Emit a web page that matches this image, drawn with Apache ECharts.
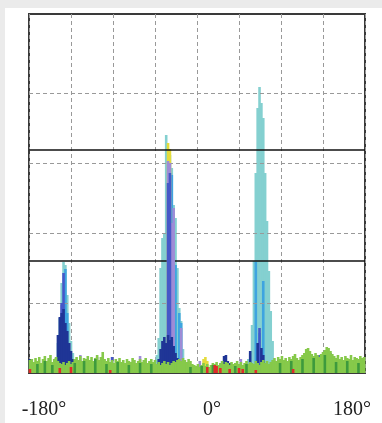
<!DOCTYPE html>
<html>
<head>
<meta charset="utf-8">
<script src="https://cdn.jsdelivr.net/npm/echarts@6/dist/echarts.min.js"></script>
<style>
  html, body { margin: 0; padding: 0; background: #ebebeb; }
  #chart { position: absolute; left: 5px; top: 8px; width: 377px; height: 415px; background: #fff; }
</style>
</head>
<body>
<div id="chart"></div>
<script>
// x labels shown under the plot
const tickValues = [-180, 0, 180]
const tickLabels = ['-180°', '0°', '180°']

// dashed reference levels and solid threshold lines (y units)
const gridLevels = [70, 140, 210, 280]
const thresholds = [112, 223]

// green background noise, one value per 2° bin from -180 to 180
const green = [
    13, 14, 11, 15, 12, 16, 10, 14, 17, 12,
    15, 18, 11, 14, 16, 12, 10, 9, 11, 8,
    10, 12, 9, 11, 14, 16, 13, 17, 12, 15,
    14, 17, 13, 16, 12, 15, 18, 13, 16, 21,
    14, 12, 15, 11, 13, 10, 14, 12, 15, 11,
    13, 10, 14, 12, 11, 15, 13, 10, 12, 14,
    11, 13, 15, 10, 12, 14, 11, 13, 9, 11,
    8, 10, 12, 9, 11, 8, 10, 12, 11, 13,
    14, 12, 15, 13, 11, 14, 12, 9, 8, 7,
    9, 6, 8, 10, 7, 9, 6, 8, 10, 9,
    11, 8, 10, 12, 9, 11, 10, 8, 11, 9,
    10, 12, 9, 11, 8, 10, 12, 9, 11, 10,
    9, 12, 10, 8, 11, 13, 10, 12, 9, 11,
    13, 15, 12, 16, 14, 17, 13, 15, 12, 16,
    14, 17, 19, 15, 13, 16, 18, 20, 24, 25,
    22, 19, 17, 20, 18, 16, 19, 21, 23, 26,
    25, 22, 19, 17, 15, 18, 14, 16, 13, 17,
    15, 14, 18, 13, 16, 15, 14, 17, 15, 16
]

// sparse series: [angle, height]
const cyan = [
    [-151, 12], [-149, 30], [-147, 55], [-145, 90], [-143, 111], [-141, 108], [-139, 78], [-137, 50], [-135, 32], [-133, 20],
    [-43, 18], [-41, 35], [-39, 105], [-37, 135], [-35, 140], [-33, 238], [-31, 224], [-29, 218], [-27, 205],
    [-25, 168], [-23, 155], [-21, 105], [-19, 65], [-17, 52], [-15, 24],
    [55, 14], [57, 20], [59, 48], [61, 112], [63, 200], [65, 265], [67, 286], [69, 270], [71, 255], [73, 200],
    [75, 152], [77, 102], [79, 62], [81, 32]
]
const skyBlue = [
    [-141, 104], [-139, 60],
    [-27, 198], [-23, 108], [-19, 60], [-17, 50],
    [63, 111], [67, 40], [71, 92]
]
const yellow = [[-31, 230], [-29, 224], [7, 14], [9, 16], [11, 12]]
const purple = [
    [-145, 68], [-137, 30], [-125, 18], [-107, 16], [-61, 17],
    [-31, 212], [-29, 210], [-27, 150], [-25, 165], [-17, 45], [3, 12], [47, 14]
]
const royal = [[-145, 70], [-143, 100], [-91, 16], [-31, 190], [-29, 200], [67, 45], [131, 18], [143, 20]]
const navy = [
    [-179, 14], [-151, 15], [-149, 38], [-147, 56], [-145, 60], [-143, 64], [-141, 50], [-139, 42],
    [-137, 30], [-135, 22], [-133, 14],
    [-41, 14], [-39, 24], [-37, 32], [-35, 36], [-33, 30], [-31, 38], [-29, 33], [-27, 36], [-25, 27],
    [-23, 20], [-21, 15], [-19, 10],
    [27, 12], [29, 17], [31, 18], [33, 12], [35, 10],
    [57, 22], [65, 30], [69, 25], [71, 18]
]
const darkGreen = [
    [-171, 9], [-163, 12], [-155, 8], [-131, 10], [-121, 12], [-109, 14], [-97, 9], [-85, 11], [-73, 8],
    [-61, 10], [-49, 9], [-7, 6], [5, 7], [17, 8], [41, 7], [53, 9], [89, 10], [101, 12], [113, 14],
    [125, 15], [137, 18], [149, 11], [161, 12], [173, 10]
]
const red = [[-179, 4], [-147, 5], [-135, 6], [-93, 3], [11, 6], [19, 8], [21, 7], [25, 5], [35, 4], [45, 5], [49, 4], [63, 3], [103, 4]]

const greenData = green.map((v, i) => [-179 + 2 * i, v])

const chart = echarts.init(document.getElementById('chart'), null, { renderer: 'canvas' })

function bars(name, data, color, z) {
    return {
        name,
        type: 'bar',
        data,
        barWidth: 2.6,
        barGap: '-100%',
        z,
        itemStyle: { color },
        silent: true
    }
}

const labelRich = {
    l0: { fontFamily: 'Liberation Serif', fontSize: 20, color: '#222', padding: [0, 0, 0, 30] },
    l1: { fontFamily: 'Liberation Serif', fontSize: 20, color: '#222', padding: [0, 0, 0, 30] },
    l2: { fontFamily: 'Liberation Serif', fontSize: 20, color: '#222', padding: [0, 26, 0, 0] }
}

chart.setOption({
    animation: false,
    backgroundColor: '#fff',
    grid: {
        left: 24, right: 17, top: 6, bottom: 50,
        show: true,
        borderColor: '#3a3a3a',
        borderWidth: 2,
        backgroundColor: 'transparent'
    },
    xAxis: {
        type: 'value',
        min: -180,
        max: 180,
        interval: 45,
        axisLine: { show: false },
        axisTick: { show: false },
        splitLine: { show: true, lineStyle: { color: '#999', width: 1, type: [4, 3] } },
        axisLabel: {
            margin: 27,
            showMinLabel: true,
            showMaxLabel: true,
            fontFamily: 'Liberation Serif',
            fontSize: 20,
            color: '#222',
            rich: labelRich,
            formatter: v => {
                const k = tickValues.indexOf(v)
                return k < 0 ? '' : '{l' + k + '|' + tickLabels[k] + '}'
            }
        }
    },
    yAxis: {
        type: 'value',
        min: 0,
        max: 359,
        axisLine: { show: false },
        axisTick: { show: false },
        axisLabel: { show: false },
        splitLine: { show: false }
    },
    series: [
        {
            name: 'grid',
            type: 'line',
            data: [],
            z: 1,
            silent: true,
            markLine: {
                silent: true,
                symbol: 'none',
                label: { show: false },
                lineStyle: { color: '#999', width: 1, type: [4, 3] },
                data: gridLevels.map(v => ({ yAxis: v }))
            }
        },
        bars('cyan', cyan, '#84d0d0', 2),
        bars('skyBlue', skyBlue, '#3ea4e0', 3),
        bars('yellow', yellow, '#e4dc3c', 4),
        bars('purple', purple, '#9e8cd6', 5),
        bars('royal', royal, '#4658c8', 6),
        bars('navy', navy, '#1f3596', 7),
        bars('green', greenData, '#86c94a', 8),
        bars('darkGreen', darkGreen, '#3d9a3d', 9),
        bars('red', red, '#e02a2a', 10),
        {
            name: 'thresholds',
            type: 'line',
            data: [],
            z: 20,
            silent: true,
            markLine: {
                silent: true,
                symbol: 'none',
                label: { show: false },
                lineStyle: { color: '#111', width: 1.5, type: 'solid' },
                data: thresholds.map(v => ({ yAxis: v }))
            }
        }
    ]
})
</script>
</body>
</html>
